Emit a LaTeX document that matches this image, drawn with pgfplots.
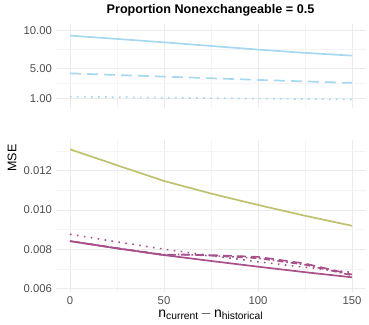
\documentclass[border=0pt]{standalone}
\usepackage{pgfplots}
\pgfplotsset{compat=1.18}
\usepackage{fontspec}
\setmainfont{Liberation Sans}
\definecolor{gmaj}{HTML}{EBEBEB}
\definecolor{gmin}{HTML}{F4F4F4}
\definecolor{tickc}{HTML}{4D4D4D}
\definecolor{cblue}{HTML}{A6D8F0}
\definecolor{cgreen}{HTML}{BEC16E}
\definecolor{cpurp}{HTML}{A8508A}
\pgfplotsset{
  panel/.style={
    scale only axis,
    xmin=-7.5, xmax=157.5,
    width=310.2pt,
    axis line style={draw=none},
    major tick length=0pt, minor tick length=0pt,
    grid=both,
    major grid style={gmaj, line width=0.9pt},
    minor grid style={gmin, line width=0.55pt},
    xtick={0,50,100,150}, minor xtick={25,75,125},
    tick label style={font=\fontsize{11.3}{13}\selectfont, text=tickc},
    /pgf/number format/assume math mode=true,
    clip=false,
  },
}
\begin{document}
\begin{tikzpicture}[x=1pt,y=1pt]
\useasboundingbox (0,0) rectangle (369,324);
% top panel
\begin{axis}[panel,
  at={(55.9pt,215.5pt)}, anchor=south west,
  height=84.7pt,
  ymin=-0.3, ymax=10.9,
  ytick={1,5,10}, yticklabels={1.00,5.00,10.00},
  minor ytick={3,7.5},
  xticklabels={},
  yticklabel style={xshift=-0.5pt},
]
\addplot[cblue, line width=1.7pt] coordinates {(0,9.34) (25,8.90) (50,8.45) (75,7.97) (100,7.49) (125,7.05) (150,6.69)};
\addplot[cblue, line width=1.7pt, dash pattern=on 11pt off 6pt] coordinates {(0,4.35) (25,4.13) (50,3.92) (75,3.70) (100,3.48) (125,3.28) (150,3.08)};
\addplot[cblue, line width=1.7pt, dash pattern=on 1.6pt off 5.4pt] coordinates {(0,1.26) (50,1.13) (100,1.01) (150,0.90)};
\end{axis}
% bottom panel
\begin{axis}[panel,
  at={(55.9pt,32.35pt)}, anchor=south west,
  height=151.4pt,
  ymin=0.00585, ymax=0.01355,
  ytick={0.006,0.008,0.010,0.012}, yticklabels={0.006,0.008,0.010,0.012},
  minor ytick={0.007,0.009,0.011,0.013},
  xticklabels={0,50,100,150},
  scaled y ticks=false,
  yticklabel style={xshift=-0.5pt},
  xticklabel style={yshift=-1pt},
]
\addplot[cgreen, line width=1.7pt] coordinates {(0,0.01309) (25,0.01228) (50,0.01148) (75,0.01084) (100,0.01026) (125,0.00971) (150,0.00920)};
\addplot[cpurp, line width=1.6pt, dash pattern=on 1.6pt off 5.4pt] coordinates {(0,0.00877) (25,0.00838) (50,0.00801) (75,0.00768) (100,0.00737) (125,0.00709) (150,0.00683)};
\addplot[cpurp, line width=1.6pt, dash pattern=on 9pt off 5pt] coordinates {(0,0.00842) (25,0.00806) (50,0.00771) (60,0.00773) (75,0.00771) (100,0.00762) (125,0.00728) (150,0.00672)};
\addplot[cpurp, line width=1.6pt, dash pattern=on 1.6pt off 3pt on 6pt off 3pt] coordinates {(0,0.00842) (25,0.00806) (50,0.00773) (60,0.00774) (75,0.00768) (100,0.00755) (125,0.00722) (150,0.00668)};
\addplot[cpurp, line width=1.7pt] coordinates {(0,0.00842) (25,0.00805) (50,0.00771) (75,0.00741) (100,0.00712) (125,0.00684) (150,0.00658)};
\end{axis}
\node[font=\bfseries\fontsize{12.6}{14}\selectfont] at (210.5,313.5) {Proportion Nonexchangeable = 0.5};
\node[rotate=90, font=\fontsize{12.5}{14}\selectfont] at (12,166) {MSE};
\node[font=\fontsize{14}{16}\selectfont] at (210.5,10) {n{\fontsize{10.3}{12}\selectfont\raisebox{-0.25ex}{current}}\,\raisebox{0.1ex}{$-$}\,n{\fontsize{10.3}{12}\selectfont\raisebox{-0.25ex}{historical}}};
\end{tikzpicture}
\end{document}
